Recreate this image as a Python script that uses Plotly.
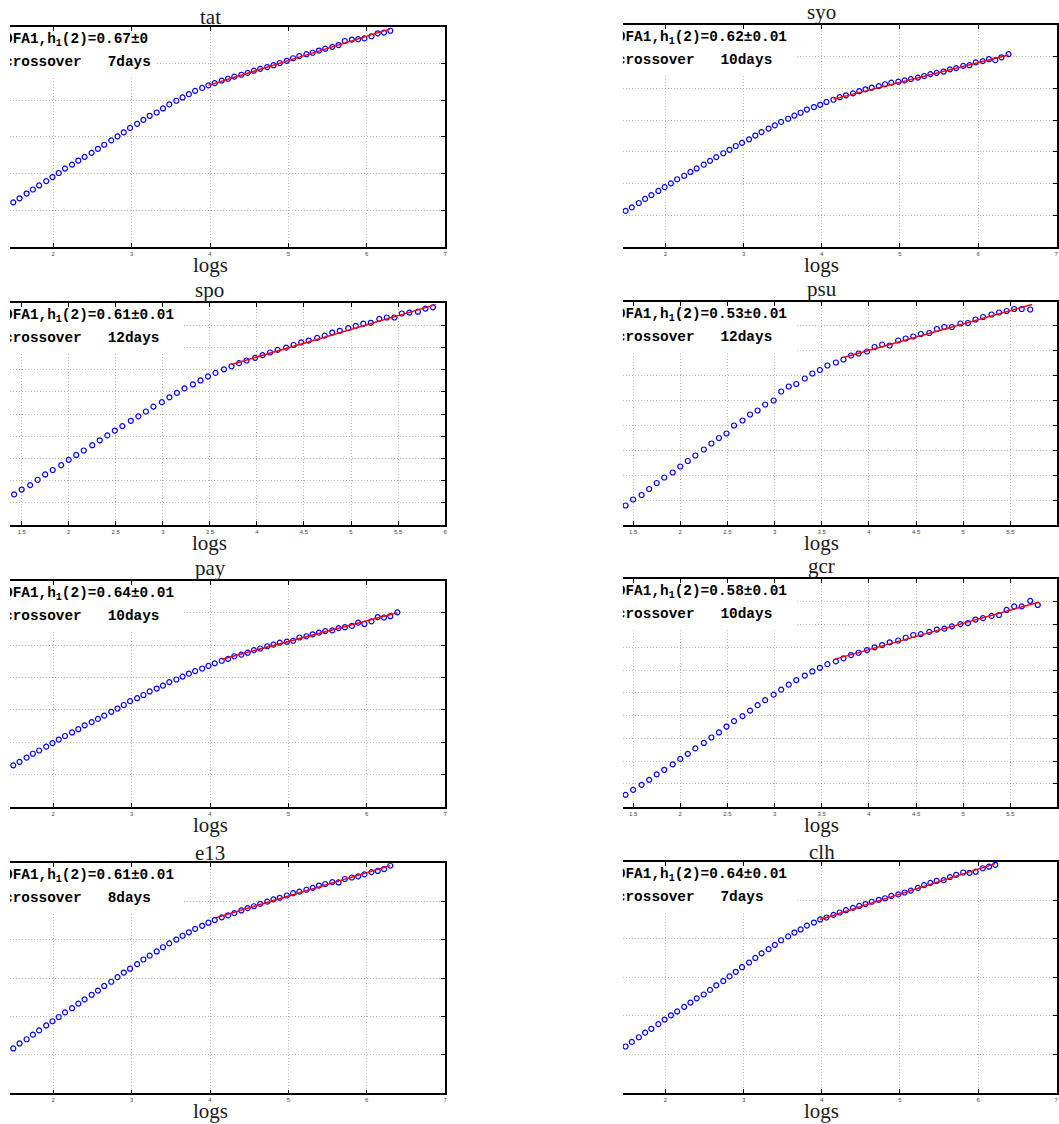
import plotly.graph_objects as go

# ---------------- data ----------------
names = ["tat", "syo", "spo", "psu", "pay", "gcr", "e13", "clh"]
h_text = ["0.67±0", "0.62±0.01", "0.61±0.01", "0.53±0.01",
          "0.64±0.01", "0.58±0.01", "0.61±0.01", "0.64±0.01"]
crossover_days = [7, 10, 12, 12, 10, 10, 8, 7]

# log(s) sampling
x_long = [1.49, 1.57, 1.66, 1.74, 1.82, 1.91, 1.99, 2.07, 2.15, 2.24, 2.32, 2.40, 2.49, 2.57, 2.65,
          2.74, 2.82, 2.90, 2.98, 3.07, 3.15, 3.23, 3.32, 3.40, 3.48, 3.57, 3.65, 3.73, 3.81, 3.90,
          3.98, 4.06, 4.15, 4.23, 4.31, 4.40, 4.48, 4.56, 4.64, 4.73, 4.81, 4.89, 4.98, 5.06, 5.14,
          5.23, 5.31, 5.39, 5.47, 5.56, 5.64, 5.72, 5.81, 5.89, 5.97, 6.06, 6.14, 6.22, 6.30, 6.39]
x_short = [1.42, 1.50, 1.59, 1.67, 1.75, 1.83, 1.92, 2.00, 2.08, 2.16, 2.25, 2.33, 2.41, 2.49, 2.57,
           2.66, 2.74, 2.82, 2.90, 2.99, 3.07, 3.15, 3.23, 3.32, 3.40, 3.48, 3.56, 3.65, 3.73, 3.81,
           3.89, 3.98, 4.06, 4.14, 4.22, 4.31, 4.39, 4.47, 4.55, 4.64, 4.72, 4.80, 4.88, 4.97, 5.05,
           5.13, 5.21, 5.30, 5.38, 5.46, 5.54, 5.62, 5.71, 5.79, 5.87]

# log F(s)
y_tat = [1.21, 1.32, 1.45, 1.56, 1.67, 1.79, 1.90, 2.01, 2.13, 2.24, 2.35, 2.45, 2.56, 2.67, 2.78,
         2.90, 3.01, 3.12, 3.24, 3.35, 3.46, 3.57, 3.66, 3.77, 3.88, 3.98, 4.07, 4.16, 4.25, 4.33,
         4.40, 4.46, 4.53, 4.58, 4.64, 4.69, 4.74, 4.80, 4.85, 4.90, 4.95, 5.01, 5.07, 5.14, 5.20,
         5.25, 5.29, 5.35, 5.40, 5.45, 5.50, 5.61, 5.65, 5.66, 5.68, 5.74, 5.82, 5.84, 5.89]
y_syo = [1.13, 1.24, 1.38, 1.51, 1.63, 1.76, 1.88, 2.00, 2.13, 2.24, 2.36, 2.47, 2.59, 2.71, 2.83,
         2.95, 3.06, 3.18, 3.28, 3.39, 3.51, 3.62, 3.73, 3.83, 3.94, 4.04, 4.14, 4.23, 4.33, 4.41,
         4.48, 4.57, 4.64, 4.72, 4.78, 4.84, 4.91, 4.97, 5.02, 5.07, 5.13, 5.18, 5.21, 5.25, 5.29,
         5.34, 5.39, 5.45, 5.49, 5.53, 5.60, 5.64, 5.71, 5.73, 5.82, 5.86, 5.92, 5.89, 5.98, 6.08]
y_spo = [0.69, 0.80, 0.90, 1.02, 1.14, 1.24, 1.35, 1.47, 1.58, 1.68, 1.80, 1.91, 2.02, 2.13, 2.23,
         2.35, 2.45, 2.56, 2.67, 2.77, 2.88, 2.98, 3.08, 3.17, 3.26, 3.35, 3.43, 3.51, 3.58, 3.65,
         3.71, 3.77, 3.83, 3.89, 3.95, 4.00, 4.06, 4.12, 4.16, 4.22, 4.27, 4.34, 4.38, 4.44, 4.49,
         4.54, 4.56, 4.65, 4.68, 4.68, 4.77, 4.79, 4.81, 4.88, 4.91]
y_psu = [0.39, 0.51, 0.60, 0.72, 0.84, 0.95, 1.05, 1.17, 1.28, 1.39, 1.51, 1.63, 1.74, 1.83, 1.99,
         2.09, 2.21, 2.29, 2.41, 2.49, 2.67, 2.77, 2.82, 2.93, 3.03, 3.10, 3.19, 3.25, 3.31, 3.39,
         3.43, 3.47, 3.56, 3.61, 3.59, 3.69, 3.73, 3.77, 3.82, 3.84, 3.92, 3.96, 3.96, 4.03, 4.04,
         4.11, 4.16, 4.21, 4.25, 4.28, 4.32, 4.32, 4.31]
y_pay = [1.28, 1.39, 1.52, 1.64, 1.74, 1.86, 1.97, 2.08, 2.19, 2.30, 2.40, 2.52, 2.62, 2.72, 2.82,
         2.94, 3.04, 3.15, 3.27, 3.36, 3.46, 3.57, 3.66, 3.75, 3.86, 3.94, 4.03, 4.12, 4.20, 4.28,
         4.36, 4.44, 4.52, 4.58, 4.66, 4.71, 4.77, 4.85, 4.90, 4.97, 5.02, 5.08, 5.11, 5.14, 5.24,
         5.28, 5.34, 5.39, 5.44, 5.46, 5.53, 5.56, 5.60, 5.70, 5.66, 5.74, 5.87, 5.86, 5.90, 6.02]
y_gcr = [0.26, 0.37, 0.48, 0.59, 0.71, 0.81, 0.93, 1.05, 1.16, 1.28, 1.40, 1.52, 1.63, 1.76, 1.88,
         1.99, 2.11, 2.23, 2.34, 2.46, 2.57, 2.68, 2.78, 2.88, 2.97, 3.05, 3.13, 3.19, 3.26, 3.33,
         3.38, 3.44, 3.50, 3.55, 3.61, 3.65, 3.71, 3.77, 3.79, 3.84, 3.89, 3.91, 3.96, 4.01, 4.03,
         4.11, 4.14, 4.19, 4.21, 4.32, 4.40, 4.40, 4.52, 4.43]
y_e13 = [1.17, 1.30, 1.41, 1.53, 1.64, 1.77, 1.88, 1.99, 2.11, 2.22, 2.34, 2.45, 2.57, 2.68, 2.80,
         2.91, 3.03, 3.15, 3.25, 3.37, 3.49, 3.59, 3.70, 3.81, 3.91, 4.01, 4.11, 4.20, 4.29, 4.37,
         4.45, 4.52, 4.59, 4.64, 4.70, 4.77, 4.83, 4.88, 4.94, 5.00, 5.06, 5.10, 5.16, 5.22, 5.26,
         5.31, 5.36, 5.42, 5.46, 5.51, 5.50, 5.59, 5.63, 5.66, 5.71, 5.77, 5.80, 5.85, 5.94]
y_clh = [1.20, 1.32, 1.44, 1.56, 1.66, 1.78, 1.90, 2.01, 2.11, 2.23, 2.34, 2.45, 2.55, 2.67, 2.79,
         2.90, 3.02, 3.14, 3.26, 3.38, 3.50, 3.62, 3.73, 3.84, 3.96, 4.06, 4.16, 4.24, 4.34, 4.42,
         4.50, 4.55, 4.62, 4.68, 4.74, 4.80, 4.85, 4.90, 4.96, 5.01, 5.05, 5.11, 5.15, 5.20, 5.25,
         5.32, 5.39, 5.45, 5.50, 5.52, 5.60, 5.66, 5.72, 5.71, 5.74, 5.83, 5.87, 5.92]

# fitted line end points (log s, log F)
fit_x0 = [3.98, 4.15, 3.73, 3.73, 4.15, 3.64, 4.06, 3.98]
fit_x1 = [6.30, 6.39, 5.90, 5.73, 6.39, 5.80, 6.30, 6.22]
fit_y0 = [4.40, 4.66, 3.62, 3.35, 4.57, 3.24, 4.57, 4.50]
fit_y1 = [5.94, 6.05, 4.97, 4.41, 6.01, 4.49, 5.94, 5.95]

series_x = [x_long[:59], x_long[:60], x_short[:55], x_short[:53],
            x_long[:60], x_short[:54], x_long[:59], x_long[:58]]
series_y = [y_tat, y_syo, y_spo, y_psu, y_pay, y_gcr, y_e13, y_clh]

# ---------------- layout geometry (pixels) ----------------
W, H = 1059, 1124
COL_PX = [(10, 446), (624, 1059)]
ROW_PX = [[(26.7, 246.7), (25.0, 246.7)],
          [(303.3, 525.0), (302.0, 525.0)],
          [(580.7, 806.7), (579.0, 806.7)],
          [(863.3, 1093.3), (861.7, 1092.7)]]
XRANGE = [(1.448, 7.0), (1.455, 7.01), (1.376, 6.0), (1.391, 5.994),
          (1.448, 7.0), (1.391, 5.994), (1.448, 7.0), (1.455, 7.01)]
YRANGE = [(0, 6), (0, 7), (0, 5), (0, 4.46), (0, 7), (0, 5), (0, 6), (0, 6)]
XSTEP = [1, 1, 0.5, 0.5, 1, 0.5, 1, 1]
YSTEP = [1, 1, 0.5, 0.5, 1, 0.5, 1, 1]
XCENTER = [4, 4, 3.5, 3.5, 4, 3.5, 4, 4]

SERIF = "Liberation Serif"
MONO = "Liberation Mono"
NB = "\u00a0"
CHAR_W = 8.64          # px per monospace character
TEXT_SHIFT = 6.0       # px the text starts left of the visible plot edge
GRID = dict(showgrid=True, gridcolor="#b8b8b8", griddash="1px,2px", gridwidth=1)

fig = go.Figure()
layout_updates = {}
for i, name in enumerate(names):
    r, c = divmod(i, 2)
    k = i + 1
    xa = "x" if k == 1 else f"x{k}"
    ya = "y" if k == 1 else f"y{k}"
    xl = "xaxis" if k == 1 else f"xaxis{k}"
    yl = "yaxis" if k == 1 else f"yaxis{k}"
    x0px, x1px = COL_PX[c]
    top, bot = ROW_PX[r][c]
    xr, yr = XRANGE[i], YRANGE[i]
    ppx = (x1px - x0px) / (xr[1] - xr[0])
    ppy = (bot - top) / (yr[1] - yr[0])

    fig.add_trace(go.Scatter(
        x=series_x[i], y=series_y[i], mode="markers", xaxis=xa, yaxis=ya,
        marker=dict(symbol="circle-open", size=5, color="#0000ff",
                    line=dict(width=1.2, color="#0000ff")),
        showlegend=False, hoverinfo="skip"))
    fig.add_trace(go.Scatter(
        x=[fit_x0[i], fit_x1[i]], y=[fit_y0[i], fit_y1[i]], mode="lines",
        xaxis=xa, yaxis=ya, line=dict(color="#ff0000", width=1.5),
        showlegend=False, hoverinfo="skip"))

    line1 = f"DFA1,h<sub>1</sub>(2)={h_text[i]}"
    line2 = f"crossover{NB*3}{crossover_days[i]}days"
    nchar = max(len(f"DFA1,h1(2)={h_text[i]}"), len(line2))
    tx = xr[0] - TEXT_SHIFT / ppx
    bx = xr[0] - 3.3 / ppx
    ty1 = yr[1] - 12.5 / ppy
    ty2 = yr[1] - 35.5 / ppy
    # white background box behind the text
    fig.add_shape(type="rect", xref=xa, yref=ya,
                  x0=bx, x1=bx + (nchar * CHAR_W + 3) / ppx,
                  y0=yr[1] - 49 / ppy, y1=yr[1],
                  fillcolor="white", line=dict(width=0), layer="between")
    fig.add_trace(go.Scatter(
        x=[tx, tx], y=[ty1, ty2], mode="text", xaxis=xa, yaxis=ya,
        text=[f"<b>{line1}</b>", f"<b>{line2}</b>"], textposition="middle right",
        textfont=dict(family=MONO, size=14.4, color="black"),
        marker=dict(size=1), cliponaxis=True, showlegend=False, hoverinfo="skip"))

    desc = any(ch in "gjpqy" for ch in name)
    fig.add_annotation(text=name, xref=xa, x=XCENTER[i], yref="paper", y=1 - top / H,
                       xanchor="center", yanchor="bottom", showarrow=False,
                       yshift=(-1 if desc else -4),
                       font=dict(family=SERIF, size=21, color="#1a1a1a"))
    fig.add_annotation(text="logs", xref=xa, x=XCENTER[i], yref="paper", y=1 - bot / H,
                       xanchor="center", yanchor="top", showarrow=False, yshift=-4,
                       font=dict(family=SERIF, size=21, color="#1a1a1a"))

    layout_updates[xl] = dict(
        domain=[x0px / W, x1px / W], range=list(xr), anchor=ya,
        tick0=0, dtick=XSTEP[i], ticks="inside", ticklen=4, tickcolor="black",
        showline=True, linecolor="black", linewidth=1.6, mirror="ticks",
        zeroline=False, tickfont=dict(family="Liberation Sans", size=6, color="#444"),
        **GRID)
    layout_updates[yl] = dict(
        domain=[1 - bot / H, 1 - top / H], range=list(yr), anchor=xa, side="right",
        tick0=0, dtick=YSTEP[i], ticks="inside", ticklen=4, tickcolor="black",
        showticklabels=False, showline=True, linecolor="black", linewidth=1.6,
        mirror=False, zeroline=False, **GRID)

fig.update_layout(width=W, height=H, autosize=False,
                  margin=dict(l=0, r=0, t=0, b=0),
                  paper_bgcolor="white", plot_bgcolor="white",
                  showlegend=False, **layout_updates)

fig.write_html("out.html")
